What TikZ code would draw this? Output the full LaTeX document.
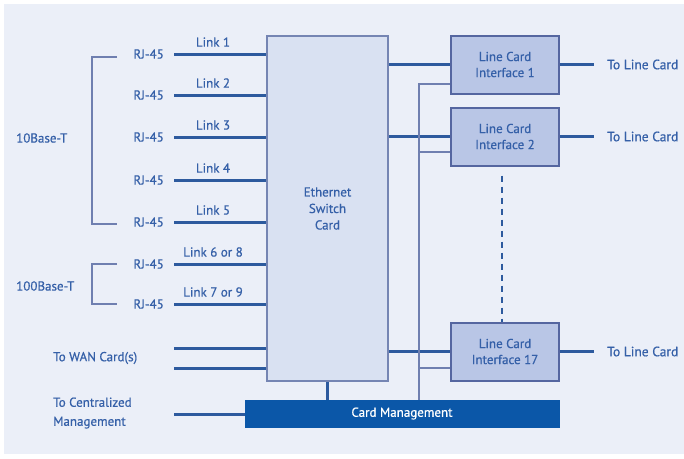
\documentclass[tikz,border=0pt]{standalone}
\usepackage{fontspec}
\setmainfont{PT Sans}[FakeBold=0.6]
\definecolor{bg}{HTML}{EBEFF8}
\definecolor{ln}{HTML}{2D5A9E}
\definecolor{thinln}{HTML}{6F7FB0}
\definecolor{txt}{HTML}{3560A8}
\definecolor{swfill}{HTML}{D9E1F2}
\definecolor{swdraw}{HTML}{7585B3}
\definecolor{lcfill}{HTML}{B9C6E6}
\definecolor{lcdraw}{HTML}{5566A0}
\definecolor{cmfill}{HTML}{0B57A8}
\tikzset{
  lbl/.style={text=txt, font=\fontsize{13}{14}\selectfont, inner sep=1pt},
  thick line/.style={draw=ln, line width=3pt},
  thinline/.style={draw=thinln, line width=1.6pt},
  swbox/.style={draw=swdraw, fill=swfill, line width=2pt, minimum width=121pt, minimum height=345pt, text=txt, align=center, font=\fontsize{13}{16.5}\selectfont},
  lcbox/.style={draw=lcdraw, fill=lcfill, line width=2pt, minimum width=108pt, minimum height=58pt, text=txt, align=center, font=\fontsize{13}{16}\selectfont},
  cmbox/.style={draw=cmfill, fill=cmfill, minimum width=314pt, minimum height=27pt, text=white, font=\fontsize{13}{14}\selectfont},
}
\begin{document}
\begin{tikzpicture}[x=1pt,y=-1pt]
\useasboundingbox (0,0) rectangle (684,458);
\fill[white] (0,0) rectangle (684,458);
\fill[bg] (4,4) rectangle (684,454);
% main blocks
\node[swbox] (sw) at (327.5,208.5) {Ethernet\\Switch\\Card};
\node[lcbox] (lc1) at (505,64.5) {Line Card\\Interface 1};
\node[lcbox] (lc2) at (505,136.5) {Line Card\\Interface 2};
\node[lcbox] (lc17) at (505,351.5) {Line Card\\Interface 17};
\node[cmbox] (cm) at (402,413.5) {Card Management};
% RJ-45 and links
\foreach \i/\y/\t in {1/54/Link 1,2/95/Link 2,3/137/Link 3,4/180/Link 4,5/222/Link 5,6/264/Link 6 or 8,7/304/Link 7 or 9}{
  \node[lbl, anchor=east] (rj\i) at (165,\y) {RJ-45};
  \coordinate (ls\i) at (174,\y);
  \draw[thick line] (ls\i) -- (ls\i -| sw.west);
  \node[lbl] (lk\i) at (213,\y-12) {\t};
}
% brackets
\draw[thinline] (117,57) -- (92,57) -- (92,224) -- (117,224);
\draw[thinline] (117,264) -- (92,264) -- (92,304) -- (117,304);
\node[lbl, anchor=west] (b10) at (15,138) {10Base-T};
\node[lbl, anchor=west] (b100) at (15,286) {100Base-T};
% WAN
\node[lbl, anchor=west] (wan) at (52,358) {To WAN Card(s)};
\coordinate (w1) at (174,348);
\coordinate (w2) at (174,368);
\draw[thick line] (w1) -- (w1 -| sw.west);
\draw[thick line] (w2) -- (w2 -| sw.west);
% centralized management
\node[lbl, anchor=west, align=left, font=\fontsize{13}{19}\selectfont] (ctr) at (52,413) {To Centralized\\Management};
\coordinate (c1) at (174,414);
\draw[thick line] (c1) -- (c1 -| cm.west);
% switch to line cards
\draw[thick line] (lc1.west -| sw.east) -- (lc1.west);
\draw[thick line] (lc2.west -| sw.east) -- (lc2.west);
\draw[thick line] (lc17.west -| sw.east) -- (lc17.west);
\draw[thick line] (sw.south) -- (sw.south |- cm.north);
% management bus
\coordinate (bus) at (419,84);
\draw[thinline] (bus -| lc1.west) -- (bus) -- (bus |- cm.north);
\draw[thinline] (419,152) -- (lc2.west |- 419,152);
\draw[thinline] (419,368) -- (lc17.west |- 419,368);
% dashed
\draw[draw=ln, line width=2pt, dash pattern=on 6pt off 5pt] ([xshift=-3pt,yshift=-9pt]lc2.south) -- ([xshift=-3pt]lc17.north);
% to line card
\foreach \n in {lc1,lc2,lc17}{
  \node[lbl, anchor=west, font=\fontsize{13.5}{14}\selectfont] (t\n) at ([xshift=46pt]\n.east) {To Line Card};
  \draw[thick line] (\n.east) -- ([xshift=-12pt]t\n.west);
}
\end{tikzpicture}
\end{document}
